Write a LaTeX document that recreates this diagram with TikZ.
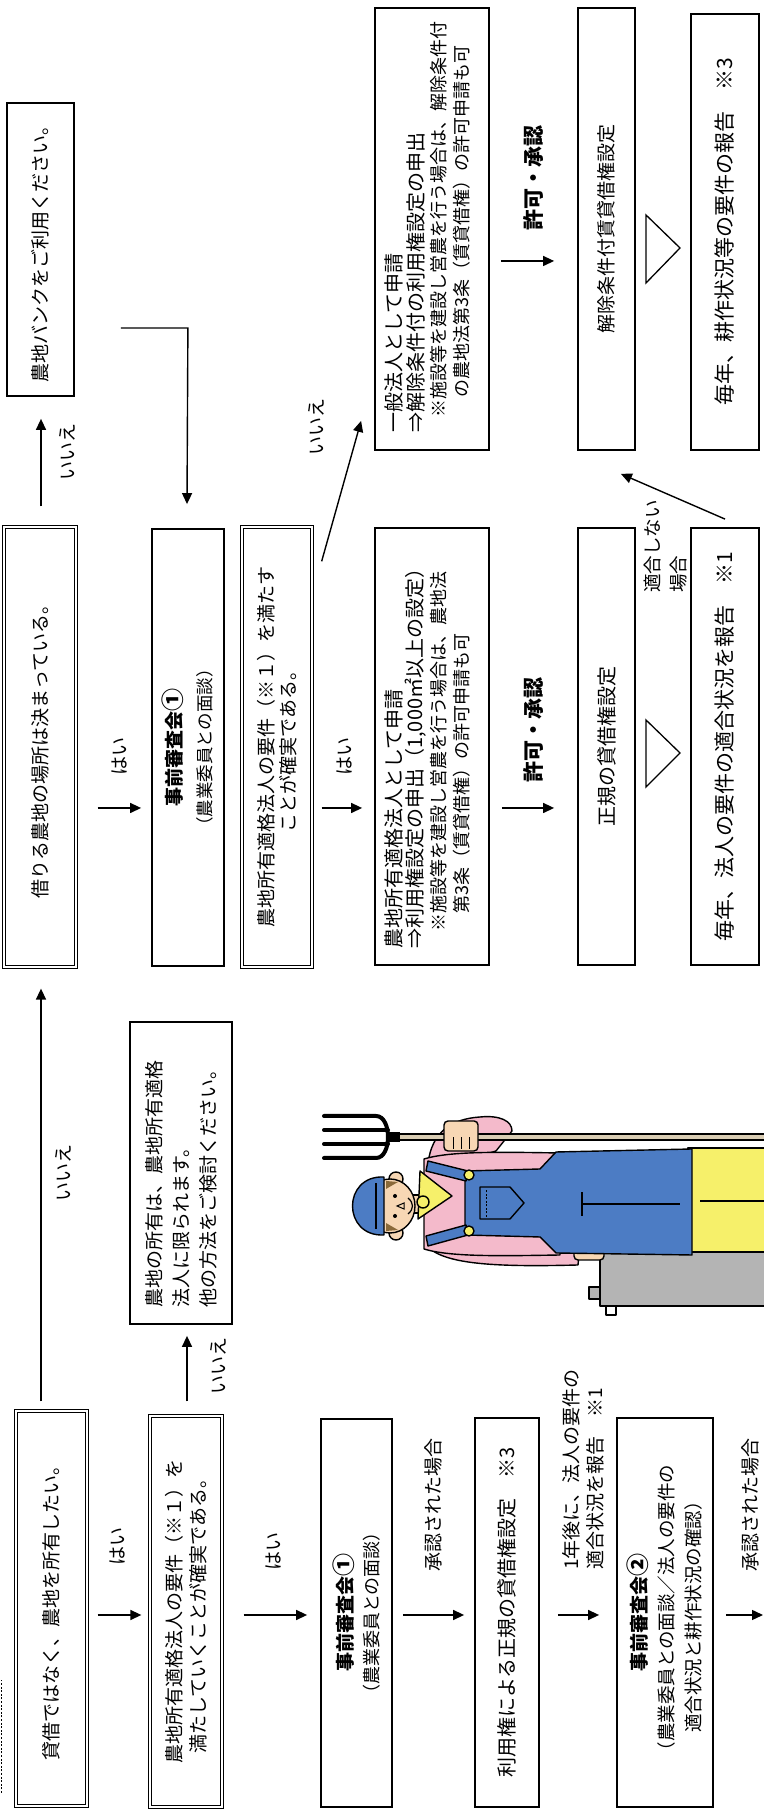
\documentclass[tikz,border=0pt]{standalone}
\usepackage{fontspec}
\setmainfont{Noto Sans CJK JP}
\usetikzlibrary{arrows.meta,calc}
\newcommand\fsz[2]{\fontsize{#1}{#2}\selectfont}
\newcommand\circnum[1]{{\fsz{23}{24}#1}}
\definecolor{skin}{HTML}{F7D7B4}
\definecolor{capblue}{HTML}{4C7CC4}
\definecolor{shirtpink}{HTML}{F4BACB}
\definecolor{pantyellow}{HTML}{F6F06A}
\definecolor{tankgray}{HTML}{B4B4B4}
\definecolor{polebeige}{HTML}{D9CDB4}
\definecolor{hairbrown}{HTML}{8A6A3A}

\begin{document}
% The flow runs left to right; the whole sheet is turned a quarter turn.
\begin{tikzpicture}[x=1pt,y=1pt,rotate=90,transform shape,
  box/.style={draw,line width=1.8pt,inner sep=0pt,align=center,font=\fsz{19}{24}},
  dbox/.style={draw,line width=1.3pt,double=white,double distance=1.9pt,inner sep=0pt,align=center,font=\fsz{19}{24}},
  arr/.style={line width=1.4pt,-{Triangle[length=11pt,width=10pt]}},
  lbl/.style={inner sep=0pt,font=\fsz{19}{24}},
  note/.style={inner sep=0pt,anchor=west,font=\fsz{18}{21}},
  head/.style={inner sep=0pt,anchor=west,font=\fsz{20}{22}},
  ink/.style={draw=black,line width=1.4pt,line join=round}]
\useasboundingbox (0,0) rectangle (1809,-763);
\fill[white] (0,0) rectangle (1809,-763);

% ---------- lower half: ownership route ----------
\node[dbox,minimum width=395,minimum height=71] (A) at (200.5,-51.5) {貸借ではなく、農地を所有したい。};
\node[dbox,minimum width=391,minimum height=72] (D) at (197.5,-186) {農地所有適格法人の要件（※１）を\\満たしていくことが確実である。};
\node[box,minimum width=302,minimum height=102,text width=270,align=left,font=\fsz{19}{27}] (E) at (636,-181)
  {農地の所有は、農地所有適格\\法人に限られます。\\他の方法をご検討ください。};
\node[box,minimum width=388,minimum height=71,font=\fsz{18}{26}] (F) at (196,-356.5) {{\fsz{19}{26}\bfseries 事前審査会\circnum{①}}\\（農業委員との面談）};
\node[box,minimum width=389,minimum height=64,font=\fsz{20}{24}] (G) at (196.5,-507) {利用権による正規の貸借権設定　※3};
\node[box,minimum width=389,minimum height=96,font=\fsz{18.5}{27}] (H) at (196.5,-665)
  {{\fsz{19}{27}\bfseries 事前審査会\circnum{②}}\\（農業委員との面談／法人の要件の\\適合状況と耕作状況の確認）};
\coordinate (Hx) at (194,-763);

% ---------- upper half: lease route ----------
\node[dbox,minimum width=440,minimum height=72] (B) at (1062,-40) {借りる農地の場所は決まっている。};
\node[box,minimum width=293,minimum height=67] (C) at (1559.5,-40.5) {農地バンクをご利用ください。};
\node[box,minimum width=437,minimum height=72,font=\fsz{17.5}{30}] (I) at (1061.5,-188) {{\fsz{19}{30}\bfseries 事前審査会\circnum{①}}\\（農業委員との面談）};
\node[dbox,minimum width=440,minimum height=70,font=\fsz{19}{22}] (J) at (1062,-277) {農地所有適格法人の要件（※１）を満たす\\ことが確実である。};
\node[box,minimum width=437,minimum height=114] (K) at (1062.5,-432) {};
\node[box,minimum width=442,minimum height=114] (L) at (1580,-432) {};
\node[box,minimum width=437,minimum height=57,font=\fsz{20}{24}] (M) at (1062.5,-606.5) {正規の貸借権設定};
\node[box,minimum width=442,minimum height=57] (N) at (1580,-606.5) {解除条件付賃貸借権設定};
\node[box,minimum width=437,minimum height=68,font=\fsz{21}{24}] (O) at (1062.5,-725) {毎年、法人の要件の適合状況を報告　※1};
\node[box,minimum width=436,minimum height=68,font=\fsz{21}{24}] (P) at (1577,-725) {毎年、耕作状況等の要件の報告　※3};

% application texts
\node[head] (k1) at ($(K.west)+(17,38)$) {農地所有適格法人として申請};
\node[head] (k2) at ($(K.west)+(17,16)$) {⇒利用権設定の申出（1,000㎡以上の設定）};
\node[note] (k3) at ($(K.west)+(34,-7)$) {※施設等を建設し営農を行う場合は、農地法};
\node[note] (k4) at ($(K.west)+(52,-30)$) {第3条（賃貸借権）の許可申請も可};
\node[head] (l1) at ($(L.west)+(18,38)$) {一般法人として申請};
\node[head] (l2) at ($(L.west)+(18,16)$) {⇒解除条件付の利用権設定の申出};
\node[note] (l3) at ($(L.west)+(33,-7)$) {※施設等を建設し営農を行う場合は、解除条件付};
\node[note] (l4) at ($(L.west)+(53,-30)$) {の農地法第3条（賃貸借権）の許可申請も可};

% step-down marks
\draw[line width=1.3pt,line join=miter] (1089,-646) -- (1022,-646) -- (1056,-680) -- cycle;
\draw[line width=1.3pt,line join=miter] (1594,-646) -- (1526,-646) -- (1561,-680) -- cycle;

% ---------- connectors ----------
\draw[arr] ($(A.east)+(9,10.5)$) -- ($(B.west)+(-21,-1)$);
\draw[arr] ($(B.east)+(20,-1)$) -- ($(C.west)+(-22,-0.5)$);
\draw[arr] ($(A.south)+(-6.5,-10)$) -- ($(D.north)+(-3.5,8)$);
\draw[arr] ($(D.south)+(-3.5,-21)$) -- ($(F.north)+(-2,13)$);
\draw[arr] ($(D.east)+(14,-1)$) -- ($(E.west)+(-11,-6)$);
\draw[arr] ($(F.south)+(-2,-10)$) -- ($(G.north)+(-2.5,10)$);
\draw[arr] ($(G.south)+(-2.5,-18)$) -- ($(H.north)+(-2.5,17)$);
\draw[arr] ($(H.south)+(-2.5,-12)$) -- (Hx);
\draw[arr] ($(B.south)+(-61,-21)$) -- ($(I.north)+(-60.5,10)$);
\draw[arr] ($(J.south)+(-61,-9)$) -- ($(K.north)+(-61.5,12)$);
\coordinate (bankout) at ($(C.south)+(-78.5,-46)$);
\coordinate (bankbend) at ($(C.south)+(-78.5,-113)$);
\draw[arr] (bankout) -- (bankbend) -- ($(I.east)+(24,1)$);
\draw[arr] ($(J.south east)+(-35,-9)$) -- ($(L.north west)+(30,13)$);
\draw[arr] ($(K.south)+(-61.5,-12)$) -- ($(M.north)+(-61.5,23)$);
\draw[arr] ($(L.south)+(-32,-11)$) -- ($(N.north)+(-32,23)$);
\draw[arr] ($(O.east)+(8,0)$) -- ($(N.south west)+(-23,15)$);

% ---------- connector labels ----------
\node[lbl] (tAB) at (636,-63) {いいえ};
\node[lbl] (tBC) at (1357,-67) {いいえ};
\node[lbl] (tAD) at (262,-118) {はい};
\node[lbl] (tDF) at (257,-274) {はい};
\node[lbl] (tDE) at (443,-218) {いいえ};
\node[lbl] (tFG) at (304,-433) {承認された場合};
\node[lbl,anchor=west,align=left] (tGH) at (239,-583) {1年後に、法人の要件の\\適合状況を報告　※1};
\node[lbl] (tHx) at (304,-750) {承認された場合};
\node[lbl] (tBI) at (1052,-120) {はい};
\node[lbl] (tJK) at (1052,-345) {はい};
\node[lbl] (tJL) at (1382,-316) {いいえ};
\node[lbl,font=\fsz{21}{24}\bfseries] (tKM) at (1079,-533) {許可・承認};
\node[lbl,font=\fsz{21}{24}\bfseries] (tLN) at (1631,-533) {許可・承認};
\node[lbl,anchor=west,align=left,font=\fsz{18.5}{26}] (tON) at (1216,-665) {適合しない\\場合};

% edge of a neighbouring line
\draw[line width=1.2pt,dash pattern=on 2pt off 1.6pt] (16,-1.5) -- (129,-1.5);

% ---------- farmer with pitchfork and tank ----------
% tank
\filldraw[ink,fill=tankgray] (503,-600) rectangle (570,-766);
\filldraw[ink,fill=tankgray] (510,-589) rectangle (522,-600);
\draw[ink] (503,-606) -- (494,-606) -- (494,-616) -- (503,-616);
% legs
\filldraw[ink,fill=pantyellow] (557,-688) rectangle (661,-766);
\draw[ink] (608,-700) -- (608,-766);
% right sleeve (raised arm)
\filldraw[ink,fill=shirtpink] (646,-428) .. controls (676,-432) and (690,-450) .. (692,-480)
  .. controls (694,-500) and (688,-512) .. (678,-512) -- (658,-496) -- (650,-470) -- cycle;
% left arm
\filldraw[ink,fill=shirtpink] (562,-428) .. controls (544,-446) and (542,-500) .. (544,-578)
  -- (566,-580) -- (570,-470) -- cycle;
% torso
\filldraw[ink,fill=shirtpink] (560,-424) .. controls (552,-450) and (553,-500) .. (554,-560)
  -- (656,-560) .. controls (657,-500) and (658,-450) .. (650,-424) -- cycle;
% left hand on the tank
\filldraw[ink,fill=skin,rounded corners=4pt] (549,-574) rectangle (571,-604);
% overalls
\filldraw[ink,fill=capblue] (574,-465) -- (638,-465) -- (640,-540) -- (657,-556) -- (660,-692)
  -- (554,-692) -- (556,-556) -- (572,-540) -- cycle;
\filldraw[ink,fill=capblue] (574,-468) -- (563,-428) -- (573,-426) -- (584,-466) -- cycle;
\filldraw[ink,fill=capblue] (638,-468) -- (648,-428) -- (638,-426) -- (628,-466) -- cycle;
\filldraw[ink,fill=pantyellow] (578,-469) circle (5);
\filldraw[ink,fill=pantyellow] (634,-469) circle (5);
\draw[ink] (590,-480) -- (622,-480) -- (622,-510) -- (606,-524) -- (590,-510) -- cycle;
\draw[line width=0.8pt,dash pattern=on 2pt off 1.5pt] (592,-486) -- (620,-486);
\draw[ink] (593,-582) -- (617,-582);
\draw[ink] (605,-582) -- (605,-680);
% neck and scarf
\filldraw[ink,fill=skin] (596,-408) rectangle (614,-424);
\filldraw[ink,fill=pantyellow] (590,-418) -- (638,-420) -- (613,-452) -- cycle;
\filldraw[ink,fill=pantyellow] (607,-423) circle (6);
% head
\filldraw[ink,fill=skin] (576,-396) circle (7);
\filldraw[ink,fill=skin] (630,-396) circle (7);
\filldraw[ink,fill=skin] (603,-390) ellipse [x radius=27,y radius=25];
\filldraw[ink,fill=capblue] (574,-384) .. controls (572,-342) and (634,-342) .. (632,-384) -- cycle;
\draw[ink] (580,-376) -- (626,-376);
\fill[hairbrown] (578,-386) -- (586,-386) -- (579,-398) -- cycle;
\fill[hairbrown] (628,-386) -- (620,-386) -- (627,-398) -- cycle;
\fill (593,-395) circle (2);
\fill (613,-395) circle (2);
\draw[line width=1pt] (603,-397) -- (600,-404) -- (606,-404) -- cycle;
\draw[line width=1.2pt] (595,-408) .. controls (600,-414) and (606,-414) .. (611,-408);
% pitchfork
\filldraw[ink,fill=polebeige] (669,-398) rectangle (675,-766);
\filldraw[ink,fill=skin,rounded corners=4pt] (658,-444) rectangle (688,-478);
\draw[line width=1pt] (660,-453) -- (672,-453) (660,-461) -- (672,-461) (660,-469) -- (672,-469);
\draw[line width=4pt,line cap=round] (651,-324) -- (651,-376) .. controls (651,-392) and (693,-392) .. (693,-376) -- (693,-324);
\draw[line width=4pt,line cap=round] (665,-324) -- (665,-388) (679,-324) -- (679,-388);
\fill (667,-386) rectangle (677,-400);
\end{tikzpicture}
\end{document}
